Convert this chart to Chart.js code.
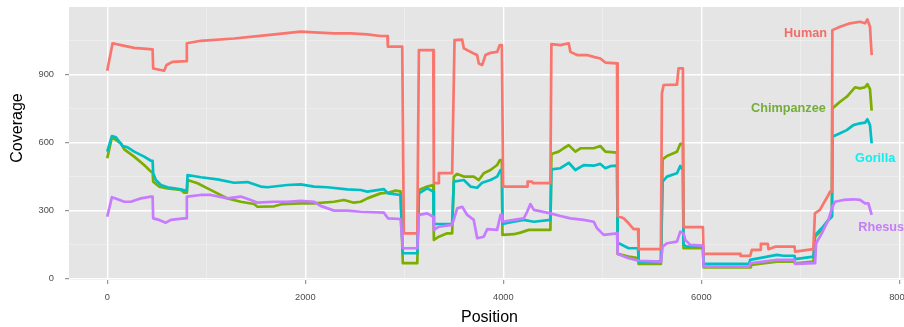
<!DOCTYPE html>
<html lang="en">
<head>
<meta charset="UTF-8">
<title>Coverage by position</title>
<script src="https://cdn.jsdelivr.net/npm/chart.js@4"></script>
<style>
  html, body { margin: 0; padding: 0; overflow: hidden; background: #fff; }
  canvas { display: block; }
</style>
</head>
<body>
<canvas id="cov" width="920" height="327"></canvas>
<script>
// coverage along the alignment, one step series per species
const humanPos = [0, 54, 138, 272, 458, 464, 575, 599, 659, 798, 804, 945, 1281, 1617, 1954, 2088, 2290, 2458, 2626, 2760, 2828, 2834, 2979, 2995, 3131, 3147, 3292, 3298, 3343, 3349, 3483, 3507, 3584, 3601, 3635, 3701, 3735, 3752, 3786, 3819, 3870, 3937, 3964, 3985, 3998, 4240, 4245, 4290, 4300, 4475, 4485, 4576, 4660, 4677, 4744, 4845, 4912, 4979, 5030, 5148, 5154, 5214, 5265, 5315, 5360, 5366, 5591, 5601, 5618, 5753, 5769, 5813, 5819, 6015, 6021, 6391, 6395, 6492, 6509, 6593, 6600, 6670, 6677, 6744, 6940, 6946, 7130, 7146, 7196, 7282, 7299, 7318, 7322, 7400, 7501, 7602, 7652, 7676, 7702, 7719];
const humanCov = [916, 1037, 1029, 1017, 1010, 926, 916, 941, 955, 958, 1037, 1048, 1058, 1073, 1088, 1085, 1081, 1081, 1076, 1069, 1069, 1022, 1022, 199, 199, 1007, 1007, 420, 420, 464, 464, 1051, 1053, 1015, 1007, 992, 985, 948, 941, 985, 995, 999, 1029, 1029, 405, 405, 427, 427, 420, 420, 1033, 1029, 1037, 999, 985, 985, 977, 970, 952, 948, 275, 265, 243, 217, 217, 129, 129, 816, 853, 855, 926, 926, 226, 226, 108, 108, 99, 99, 126, 126, 152, 152, 129, 140, 140, 118, 129, 287, 302, 368, 383, 383, 1095, 1110, 1125, 1132, 1125, 1142, 1110, 985];

const chimpPos = [0, 47, 138, 172, 272, 373, 441, 458, 464, 524, 609, 743, 777, 804, 811, 912, 1013, 1113, 1214, 1348, 1483, 1517, 1684, 1769, 1954, 2088, 2290, 2390, 2491, 2559, 2626, 2760, 2834, 2912, 2962, 2985, 3131, 3147, 3231, 3292, 3298, 3349, 3433, 3483, 3500, 3534, 3601, 3701, 3752, 3802, 3870, 3937, 3964, 3985, 3991, 4105, 4172, 4256, 4475, 4485, 4559, 4609, 4660, 4727, 4778, 4912, 4979, 5030, 5148, 5154, 5265, 5360, 5366, 5591, 5608, 5652, 5753, 5786, 5813, 5819, 6015, 6021, 6492, 6500, 6762, 6940, 6946, 7131, 7146, 7215, 7282, 7318, 7322, 7400, 7467, 7551, 7602, 7652, 7676, 7702, 7719];
const chimpCov = [530, 622, 596, 569, 537, 500, 471, 471, 427, 405, 397, 390, 378, 378, 434, 420, 397, 375, 353, 338, 328, 316, 318, 328, 331, 331, 338, 346, 334, 338, 353, 375, 378, 387, 384, 67, 67, 390, 405, 412, 170, 184, 199, 199, 449, 461, 449, 449, 434, 464, 478, 500, 522, 522, 192, 195, 202, 214, 214, 549, 559, 574, 588, 559, 574, 574, 584, 559, 555, 108, 96, 90, 64, 64, 525, 540, 559, 593, 593, 133, 133, 49, 49, 59, 74, 74, 67, 74, 184, 214, 258, 272, 750, 779, 801, 843, 838, 843, 857, 835, 740];

const gorillaPos = [0, 47, 88, 155, 206, 272, 373, 441, 458, 464, 491, 542, 609, 743, 794, 804, 811, 945, 1113, 1281, 1416, 1550, 1617, 1819, 1954, 2088, 2223, 2424, 2559, 2626, 2794, 2834, 2962, 2985, 3131, 3147, 3231, 3292, 3298, 3483, 3500, 3601, 3668, 3735, 3786, 3870, 3937, 3971, 3985, 3991, 4105, 4206, 4307, 4475, 4485, 4576, 4660, 4727, 4811, 4912, 4979, 5030, 5080, 5148, 5154, 5265, 5360, 5366, 5591, 5608, 5652, 5753, 5786, 5813, 5819, 5854, 6015, 6021, 6480, 6492, 6761, 6828, 6940, 6946, 7131, 7148, 7215, 7282, 7318, 7322, 7400, 7467, 7534, 7602, 7652, 7676, 7702, 7719];
const gorillaCov = [559, 628, 622, 584, 578, 559, 537, 519, 519, 464, 434, 412, 402, 393, 386, 386, 456, 446, 437, 422, 425, 405, 402, 412, 415, 405, 402, 393, 390, 383, 394, 375, 368, 111, 111, 375, 397, 383, 240, 240, 427, 434, 405, 400, 422, 434, 449, 478, 478, 240, 250, 258, 250, 258, 481, 486, 510, 478, 500, 497, 505, 486, 495, 497, 158, 133, 133, 74, 74, 427, 449, 464, 496, 478, 148, 140, 140, 64, 64, 82, 104, 100, 100, 85, 96, 192, 221, 258, 275, 625, 640, 654, 676, 684, 687, 702, 676, 596];

const rhesusPos = [0, 47, 105, 172, 239, 289, 340, 441, 458, 464, 524, 592, 642, 777, 798, 804, 945, 1046, 1214, 1348, 1449, 1517, 1684, 1819, 1954, 2088, 2155, 2290, 2424, 2559, 2794, 2834, 2962, 2985, 3131, 3147, 3231, 3292, 3298, 3349, 3483, 3534, 3584, 3635, 3701, 3736, 3802, 3837, 3937, 3971, 3985, 3991, 4105, 4206, 4240, 4273, 4307, 4475, 4576, 4677, 4811, 4912, 4946, 5013, 5148, 5154, 5265, 5366, 5591, 5608, 5652, 5753, 5786, 5819, 5837, 5887, 6015, 6021, 6480, 6492, 6761, 6940, 6946, 7148, 7158, 7215, 7282, 7322, 7349, 7433, 7534, 7602, 7652, 7686, 7719];
const rhesusCov = [272, 358, 349, 338, 338, 346, 353, 361, 361, 265, 258, 246, 258, 265, 265, 361, 368, 368, 353, 361, 346, 334, 338, 338, 342, 338, 320, 299, 299, 294, 290, 265, 262, 133, 133, 280, 287, 272, 214, 228, 236, 309, 316, 280, 258, 177, 184, 217, 214, 280, 280, 250, 258, 265, 294, 328, 302, 287, 275, 265, 258, 250, 221, 192, 199, 108, 89, 78, 74, 140, 155, 162, 206, 199, 170, 148, 145, 52, 52, 67, 82, 82, 64, 67, 155, 199, 258, 316, 338, 346, 349, 346, 331, 331, 280];

// axis breaks
const xTicks = [0, 2000, 4000, 6000, 8000];
const xMinor = [1000, 3000, 5000, 7000];
const yTicks = [0, 300, 600, 900];
const yMinor = [150, 450, 750, 1050];

const FONT = '"Liberation Sans", Arial, Helvetica, sans-serif';

// in-panel species labels, placed in data units
const speciesLabels = [
  { text: 'Human',      x: 7269, y: 1082, align: 'right', color: '#EE6F68' },
  { text: 'Chimpanzee', x: 7256, y: 751,  align: 'right', color: '#74AD3A' },
  { text: 'Gorilla',    x: 7551, y: 531,  align: 'left',  color: '#10EEEE' },
  { text: 'Rhesus',     x: 7584, y: 226,  align: 'left',  color: '#C57DF8' }
];

function series(pos, cov) {
  return pos.map((x, i) => ({ x: x, y: cov[i] }));
}

function breaks(major, minor) {
  return scale => {
    scale.ticks = major.concat(minor).sort((a, b) => a - b).map(v => ({ value: v }));
  };
}

function gridFor(major) {
  return {
    color: c => major.includes(c.tick.value) ? '#FFFFFF' : '#F2F2F2',
    lineWidth: c => major.includes(c.tick.value) ? 1.4 : 0.6,
    tickLength: 4,
    tickWidth: 1,
    tickColor: c => major.includes(c.tick.value) ? '#7F7F7F' : 'rgba(0,0,0,0)'
  };
}

// keep the plot panel exactly where the layout padding puts it
function noEdgePadding(scale) {
  scale.paddingTop = 0;
  scale.paddingBottom = 0;
  scale.paddingLeft = 0;
  scale.paddingRight = 0;
}

const panel = {
  id: 'panel',
  beforeDraw(chart) {
    const { ctx, chartArea: a } = chart;
    ctx.save();
    ctx.fillStyle = '#E5E5E5';
    ctx.fillRect(a.left, a.top, a.right - a.left, a.bottom - a.top);
    ctx.restore();
  },
  afterDatasetsDraw(chart) {
    const { ctx, scales } = chart;
    ctx.save();
    ctx.font = 'bold 12.7px ' + FONT;
    ctx.textBaseline = 'middle';
    speciesLabels.forEach(l => {
      ctx.fillStyle = l.color;
      ctx.textAlign = l.align;
      ctx.fillText(l.text, scales.x.getPixelForValue(l.x), scales.y.getPixelForValue(l.y));
    });
    ctx.restore();
  },
  afterDraw(chart) {
    const ctx = chart.ctx;
    ctx.save();
    ctx.translate(18, 128);
    ctx.rotate(-Math.PI / 2);
    ctx.font = '16px ' + FONT;
    ctx.fillStyle = '#000';
    ctx.textAlign = 'center';
    ctx.textBaseline = 'middle';
    ctx.fillText('Coverage', 0, 0);
    ctx.restore();
  }
};

const line = (label, color, pos, cov) => ({
  label: label,
  data: series(pos, cov),
  borderColor: color,
  backgroundColor: color,
  borderWidth: 2.7,
  borderJoinStyle: 'round',
  pointRadius: 0,
  tension: 0,
  fill: false
});

new Chart(document.getElementById('cov').getContext('2d'), {
  type: 'line',
  data: {
    // first dataset is painted last
    datasets: [
      line('Rhesus', '#C77CFF', rhesusPos, rhesusCov),
      line('Human', '#F8766D', humanPos, humanCov),
      line('Gorilla', '#00BFC4', gorillaPos, gorillaCov),
      line('Chimpanzee', '#7CAE00', chimpPos, chimpCov)
    ]
  },
  options: {
    responsive: false,
    animation: false,
    layout: { padding: { top: 7, right: 10, left: 0, bottom: 0 } },
    plugins: { legend: { display: false }, tooltip: { enabled: false } },
    scales: {
      x: {
        type: 'linear',
        min: -386,
        max: 8106,
        afterBuildTicks: breaks(xTicks, xMinor),
        afterFit: s => { s.height = 47; noEdgePadding(s); },
        border: { display: false },
        grid: gridFor(xTicks),
        ticks: {
          autoSkip: false,
          maxRotation: 0,
          padding: 8,
          color: '#4D4D4D',
          font: { family: FONT, size: 9.3 },
          callback: v => xTicks.includes(v) ? String(v) : ''
        },
        title: {
          display: true,
          text: 'Position',
          color: '#000',
          font: { family: FONT, size: 16 },
          padding: { top: 0, bottom: 0 }
        }
      },
      y: {
        type: 'linear',
        min: -7,
        max: 1197,
        afterBuildTicks: breaks(yTicks, yMinor),
        afterFit: s => { s.width = 69; noEdgePadding(s); },
        border: { display: false },
        grid: gridFor(yTicks),
        ticks: {
          autoSkip: false,
          padding: 11,
          color: '#4D4D4D',
          font: { family: FONT, size: 9.3 },
          callback: v => yTicks.includes(v) ? String(v) : ''
        }
      }
    }
  },
  plugins: [panel]
});
</script>
</body>
</html>
